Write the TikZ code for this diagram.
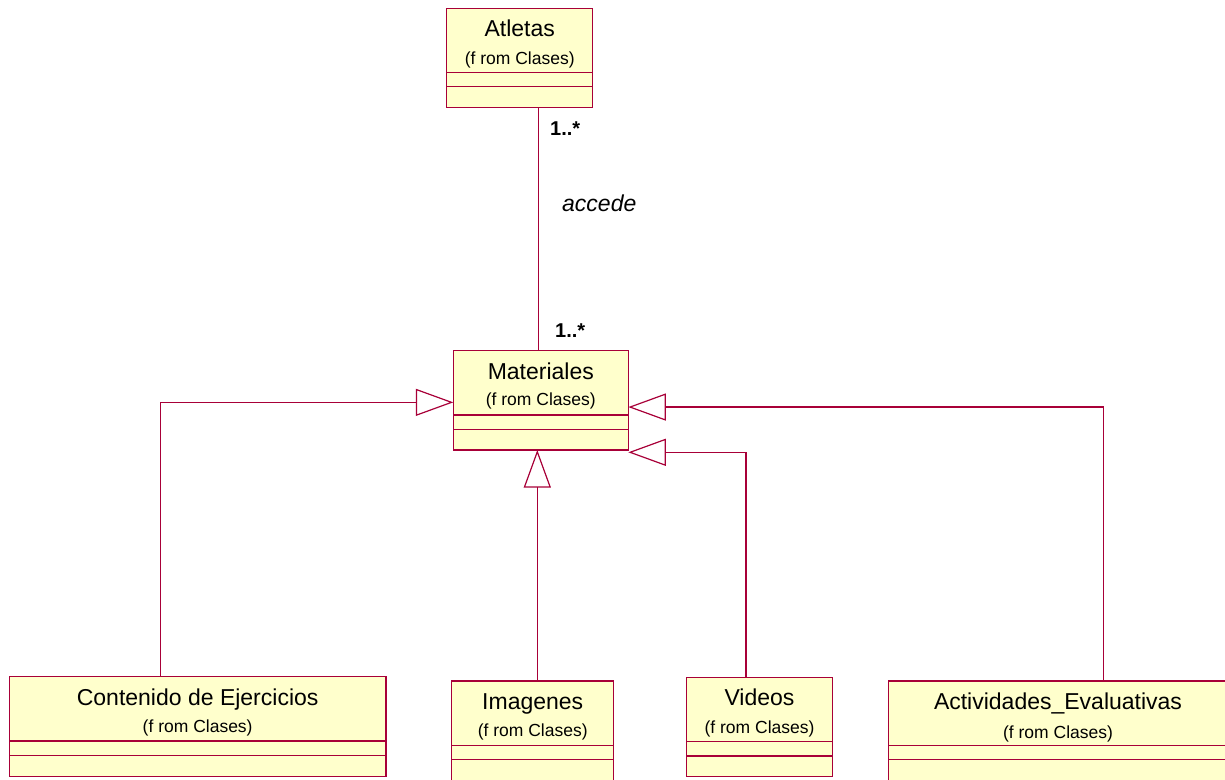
\documentclass[tikz,border=0pt]{standalone}
\usepackage{fontspec}
\setmainfont{Liberation Sans}
\usetikzlibrary{arrows.meta,calc}

\definecolor{umlborder}{RGB}{168,0,56}
\definecolor{umlfill}{RGB}{255,255,204}

\tikzset{
  classbox/.style={draw=umlborder, fill=umlfill, line width=1.2pt,
    inner sep=0pt, outer sep=0pt, anchor=north west, rectangle},
  cline/.style={draw=umlborder, line width=1.1pt},
  ctitle/.style={anchor=base, inner sep=0pt, font=\fontsize{23}{27}\selectfont},
  cfrom/.style={anchor=base, inner sep=0pt, font=\fontsize{17.5}{21}\selectfont},
  mult/.style={anchor=base west, inner sep=0pt, font=\bfseries\fontsize{20}{24}\selectfont},
  rolelabel/.style={anchor=base west, inner sep=0pt, font=\itshape\fontsize{23}{27}\selectfont},
  assoc/.style={draw=umlborder, line width=1.2pt},
  gen/.style={draw=umlborder, line width=1.2pt,
    -{Triangle[open, length=37.5pt, width=27pt, line width=1.2pt]}},
}

\begin{document}
\begin{tikzpicture}[x=1pt, y=-1pt]
\clip (0,0) rectangle (1225,779);

% class boxes
\node[classbox, minimum width=146pt, minimum height=99pt] (atl) at (446.7,8.3) {};
\node[classbox, minimum width=175pt, minimum height=99.3pt] (mat) at (453.3,350.7) {};
\node[classbox, minimum width=376.7pt, minimum height=100pt] (con) at (9.3,676.7) {};
\node[classbox, minimum width=162pt, minimum height=100pt] (img) at (451.7,681) {};
\node[classbox, minimum width=145.6pt, minimum height=99.4pt] (vid) at (686.7,677.3) {};
\node[classbox, minimum width=345pt, minimum height=100pt] (act) at (888.3,681) {};

% compartment separators
\foreach \b/\p/\q in {atl/64/78.4, mat/64.3/78.6, con/64.3/79, img/64.7/78.3, vid/64.4/78.7, act/64.7/78.3}{
  \draw[cline] ($(\b.north west)+(0,\p)$) -- ($(\b.north east)+(0,\p)$);
  \draw[cline] ($(\b.north west)+(0,\q)$) -- ($(\b.north east)+(0,\q)$);
}

% class names
\node[ctitle] (atlT) at ($(atl.north)+(0,27.7)$) {Atletas};
\node[cfrom]  (atlF) at ($(atl.north)+(0,56)$) {(f rom Clases)};
\node[ctitle] (matT) at ($(mat.north)+(0,28.6)$) {Materiales};
\node[cfrom]  (matF) at ($(mat.north)+(0,55)$) {(f rom Clases)};
\node[ctitle] (conT) at ($(con.north)+(0,28.3)$) {Contenido de Ejercicios};
\node[cfrom]  (conF) at ($(con.north)+(0,55.6)$) {(f rom Clases)};
\node[ctitle] (imgT) at ($(img.north)+(0,28)$) {Imagenes};
\node[cfrom]  (imgF) at ($(img.north)+(0,55.7)$) {(f rom Clases)};
\node[ctitle] (vidT) at ($(vid.north)+(0,27.7)$) {Videos};
\node[cfrom]  (vidF) at ($(vid.north)+(0,56)$) {(f rom Clases)};
\node[ctitle] (actT) at (1058,709) {Actividades\_Evaluativas};
\node[cfrom]  (actF) at (1058,738.3) {(f rom Clases)};

% association Atletas -- Materiales
\coordinate (asTop) at ([xshift=19pt]atl.south);
\draw[assoc] (asTop) -- (asTop |- mat.north);
\node[mult] (mTop) at (550,135) {1..*};
\node[mult] (mBot) at (555,337) {1..*};
\node[rolelabel] (role) at (562,211) {accede};

% generalizations
\coordinate (conTop) at ([xshift=-37pt]con.north);
\coordinate (imgTop) at ([xshift=4.6pt]img.north);
\coordinate (vidTop) at ([xshift=-13.5pt]vid.north);
\coordinate (actTop) at (1103.3,681);
\draw[gen] (conTop) |- ([yshift=-2pt]mat.west);
\draw[gen] (imgTop) -- (imgTop |- mat.south);
\draw[gen] (vidTop) |- ([yshift=-2.3pt]mat.south east);
\draw[gen] (actTop) |- ([yshift=-6.7pt]mat.east);
\end{tikzpicture}
\end{document}
